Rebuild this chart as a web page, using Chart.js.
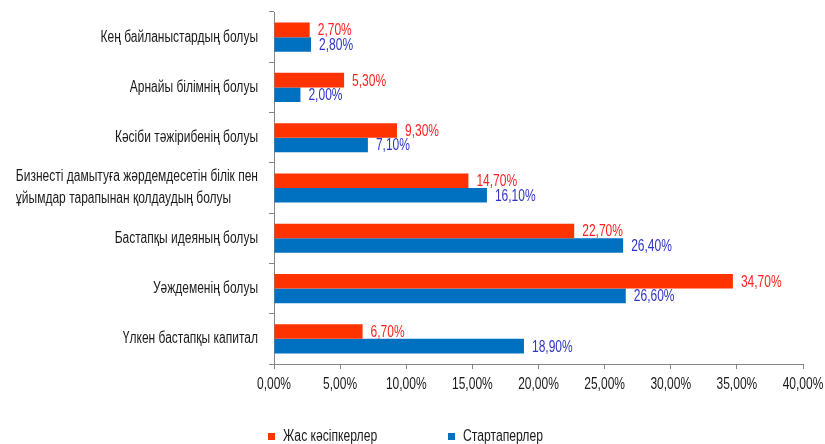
<!DOCTYPE html>
<html>
<head>
<meta charset="utf-8">
<title>Chart</title>
<script src="https://cdn.jsdelivr.net/npm/chart.js@4"></script>
<style>
  body { margin: 0; background: #fff; }
  #wrap { position: relative; width: 825px; height: 444px; }
  .legend-item {
    position: absolute; top: 427px;
    font: 16px 'Liberation Sans', Arial, sans-serif;
    color: #1a1a1a; white-space: nowrap;
  }
  .legend-item span.box {
    position: absolute; left: 0; top: 6px; width: 7px; height: 7px;
  }
  .legend-item span.txt {
    display: inline-block; margin-left: 15px; transform: scaleX(0.76); transform-origin: left center;
  }
</style>
</head>
<body>
<div id="wrap">
  <canvas id="myChart" width="825" height="444"></canvas>
  <div class="legend-item" style="left:268px"><span class="box" style="background:#FF3300"></span><span class="txt">Жас кәсіпкерлер</span></div>
  <div class="legend-item" style="left:448px"><span class="box" style="background:#0070C0"></span><span class="txt">Стартаперлер</span></div>
</div>
<script>
// Data
const categories = [
    'Кең байланыстардың болуы',
    'Арнайы білімнің болуы',
    'Кәсіби тәжірибенің болуы',
    ['Бизнесті дамытуға жәрдемдесетін білік пен', 'ұйымдар тарапынан қолдаудың болуы'],
    'Бастапқы идеяның болуы',
    'Уәждеменің болуы',
    'Үлкен бастапқы капитал'
];
const seriesNames = ['Жас кәсіпкерлер', 'Стартаперлер'];
const youngEntrepreneurs = [2.7, 5.3, 9.3, 14.7, 22.7, 34.7, 6.7];
const startuppers = [2.8, 2.0, 7.1, 16.1, 26.4, 26.6, 18.9];
const xTicks = [0, 5, 10, 15, 20, 25, 30, 35, 40];

const barColors = ['#FF3300', '#0070C0'];
const labelColors = ['#FF1F1F', '#2F35C4'];
const textColor = '#1a1a1a';
const squeeze = 0.75;

function fmt(v) {
    return v.toFixed(2).replace('.', ',') + '%';
}

// the original uses a condensed face, so squeeze Liberation Sans a bit
function narrowText(ctx, text, x, y, align, color) {
    ctx.save();
    ctx.font = "16px 'Liberation Sans', Arial, sans-serif";
    ctx.fillStyle = color;
    ctx.textAlign = align;
    ctx.textBaseline = 'middle';
    ctx.translate(x, y);
    ctx.scale(squeeze, 1);
    ctx.fillText(text, 0, 0);
    ctx.restore();
}

function narrowWidth(ctx, text) {
    ctx.save();
    ctx.font = "16px 'Liberation Sans', Arial, sans-serif";
    const w = ctx.measureText(text).width * squeeze;
    ctx.restore();
    return w;
}

const textLabels = {
    id: 'textLabels',
    afterDraw(chart) {
        const ctx = chart.ctx;
        const xs = chart.scales.x;
        const ys = chart.scales.y;
        const right = ys.right - 16;

        // category labels (wrapped one: block right aligned, lines left aligned)
        categories.forEach(function(label, i) {
            const y = ys.getPixelForValue(i);
            if (!Array.isArray(label)) {
                narrowText(ctx, label, right, y, 'right', textColor);
                return;
            }
            const maxW = Math.max.apply(null, label.map(function(l) { return narrowWidth(ctx, l); }));
            label.forEach(function(line, k) {
                const dy = (k - (label.length - 1) / 2) * 22;
                narrowText(ctx, line, right - maxW, y + dy, 'left', textColor);
            });
        });

        // x tick labels
        xTicks.forEach(function(v) {
            narrowText(ctx, fmt(v), xs.getPixelForValue(v), xs.top + 21, 'center', textColor);
        });

        // value labels at the end of each bar
        chart.data.datasets.forEach(function(ds, i) {
            chart.getDatasetMeta(i).data.forEach(function(bar, j) {
                narrowText(ctx, fmt(ds.data[j]), bar.x + 8, bar.y + 1, 'left', labelColors[i]);
            });
        });
    }
};

const ctx = document.getElementById('myChart').getContext('2d');
const myChart = new Chart(ctx, {
    type: 'bar',
    data: {
        labels: categories,
        datasets: [{
            label: seriesNames[0],
            data: youngEntrepreneurs,
            backgroundColor: barColors[0]
        }, {
            label: seriesNames[1],
            data: startuppers,
            backgroundColor: barColors[1]
        }]
    },
    options: {
        indexAxis: 'y',
        responsive: false,
        animation: false,
        categoryPercentage: 0.58,
        barPercentage: 1,
        layout: { padding: { top: 12, right: 22, bottom: 40, left: 0 } },
        plugins: {
            legend: { display: false },
            tooltip: { enabled: false }
        },
        scales: {
            x: {
                min: 0,
                max: 40,
                afterBuildTicks: function(scale) {
                    scale.ticks = xTicks.map(function(v) { return { value: v }; });
                },
                afterFit: function(scale) { scale.height = 40; },
                ticks: { display: false },
                grid: { drawOnChartArea: false, tickLength: 5, color: '#868686' },
                border: { color: '#868686' }
            },
            y: {
                afterFit: function(scale) { scale.width = 274; },
                ticks: { display: false },
                grid: { drawOnChartArea: false, tickLength: 5, color: '#868686' },
                border: { color: '#868686' }
            }
        }
    },
    plugins: [textLabels]
});
</script>
</body>
</html>
